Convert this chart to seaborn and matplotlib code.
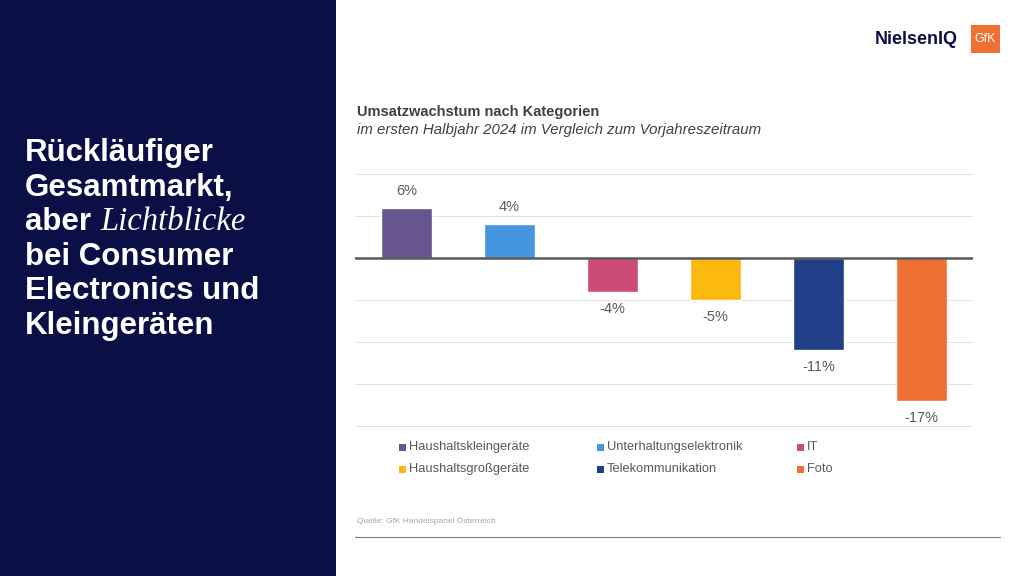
import matplotlib
matplotlib.use('Agg')
import matplotlib.pyplot as plt
import seaborn as sns
import pandas as pd
from matplotlib.patches import Rectangle

categories = ['Haushaltskleingeräte', 'Unterhaltungselektronik', 'IT',
              'Haushaltsgroßgeräte', 'Telekommunikation', 'Foto']
growth = [6, 4, -4, -5, -11, -17]
labels = ['6%', '4%', '-4%', '-5%', '-11%', '-17%']
colors = ['#67558f', '#4596de', '#cc4b78', '#fbb80f', '#213f86', '#ef7033']

sns.set_theme(style='white')
plt.rcParams['font.family'] = ['Liberation Sans', 'DejaVu Sans']

W, H = 1024, 576
fig = plt.figure(figsize=(10.24, 5.76), dpi=100)
fig.patch.set_facecolor('white')

# left navy panel
fig.patches.append(Rectangle((0, 0), 336 / W, 1, transform=fig.transFigure,
                             facecolor='#0a0f45', edgecolor='none', zorder=0))
title_lines = [('Rückläufiger', None), ('Gesamtmarkt,', None), ('aber ', 'Lichtblicke'),
               ('bei Consumer', None), ('Electronics und', None), ('Kleingeräten', None)]
y0 = 153
for i, (txt, extra) in enumerate(title_lines):
    y = 1 - (y0 + i * 34.6) / H
    t = fig.text(25 / W, y, txt, color='white', fontsize=22.5, fontweight='bold', va='center')
    if extra:
        fig.canvas.draw()
        bb = t.get_window_extent()
        fig.text(bb.x1 / W + 0.001, y, extra, color='white', fontsize=23.5, va='center',
                 family=['Liberation Serif', 'DejaVu Serif'], style='italic')

# logo
fig.text(958 / W, 1 - 40 / H, 'NielsenIQ', color='#0a0f45', fontsize=13,
         fontweight='bold', ha='right', va='center')
fig.patches.append(Rectangle((971 / W, 1 - 53 / H), 29 / W, 28 / H, transform=fig.transFigure,
                             facecolor='#ef7033', edgecolor='none'))
fig.text(985.5 / W, 1 - 39 / H, 'GfK', color='white', fontsize=9, ha='center', va='center')

# chart titles
fig.text(357 / W, 1 - 112 / H, 'Umsatzwachstum nach Kategorien', color='#404040',
         fontsize=10.5, fontweight='bold', va='center')
fig.text(357 / W, 1 - 130 / H, 'im ersten Halbjahr 2024 im Vergleich zum Vorjahreszeitraum',
         color='#404040', fontsize=10.8, style='italic', va='center')

ax = fig.add_axes([355 / W, 1 - 427 / H, (973 - 355) / W, (427 - 173) / H])
df = pd.DataFrame({'cat': categories, 'val': growth})
sns.barplot(data=df, x='cat', y='val', hue='cat', palette=colors, dodge=False,
            width=0.49, legend=False, ax=ax, saturation=1)
ax.set_ylim(-20.12, 10.12)
ax.set_xlim(-0.5, 5.5)
ax.set_yticks(range(-20, 11, 5))
ax.yaxis.grid(True, color='#e4e4e4', linewidth=0.8)
ax.set_axisbelow(True)
ax.axhline(0, color='#595959', linewidth=1.8)
for s in ax.spines.values():
    s.set_visible(False)
ax.set_xticks([])
ax.set_yticklabels([])
ax.tick_params(left=False)
ax.set_xlabel('')
ax.set_ylabel('')
for i, (v, lab) in enumerate(zip(growth, labels)):
    off = 1.2 if v > 0 else -1.2
    ax.text(i, v + off, lab, ha='center', va='bottom' if v > 0 else 'top',
            color='#595959', fontsize=10.5)

# legend
leg_x = [399, 597, 797]
leg_y = [447, 469]
for i, (c, col) in enumerate(zip(categories, colors)):
    x = leg_x[i % 3]
    y = leg_y[i // 3]
    fig.patches.append(Rectangle((x / W, 1 - (y + 4) / H), 7 / W, 7 / H,
                                 transform=fig.transFigure, facecolor=col, edgecolor='none'))
    fig.text((x + 10) / W, 1 - y / H, c, color='#595959', fontsize=9.3, va='center')

fig.text(357 / W, 1 - 523 / H, 'Quelle: GfK Handelspanel Österreich', color='#a6a6a6', fontsize=6)
fig.add_artist(plt.Line2D([355 / W, 1000 / W], [1 - 537 / H, 1 - 537 / H],
                          color='#7f7f7f', linewidth=0.8))

fig.savefig('out.png', dpi=100)
